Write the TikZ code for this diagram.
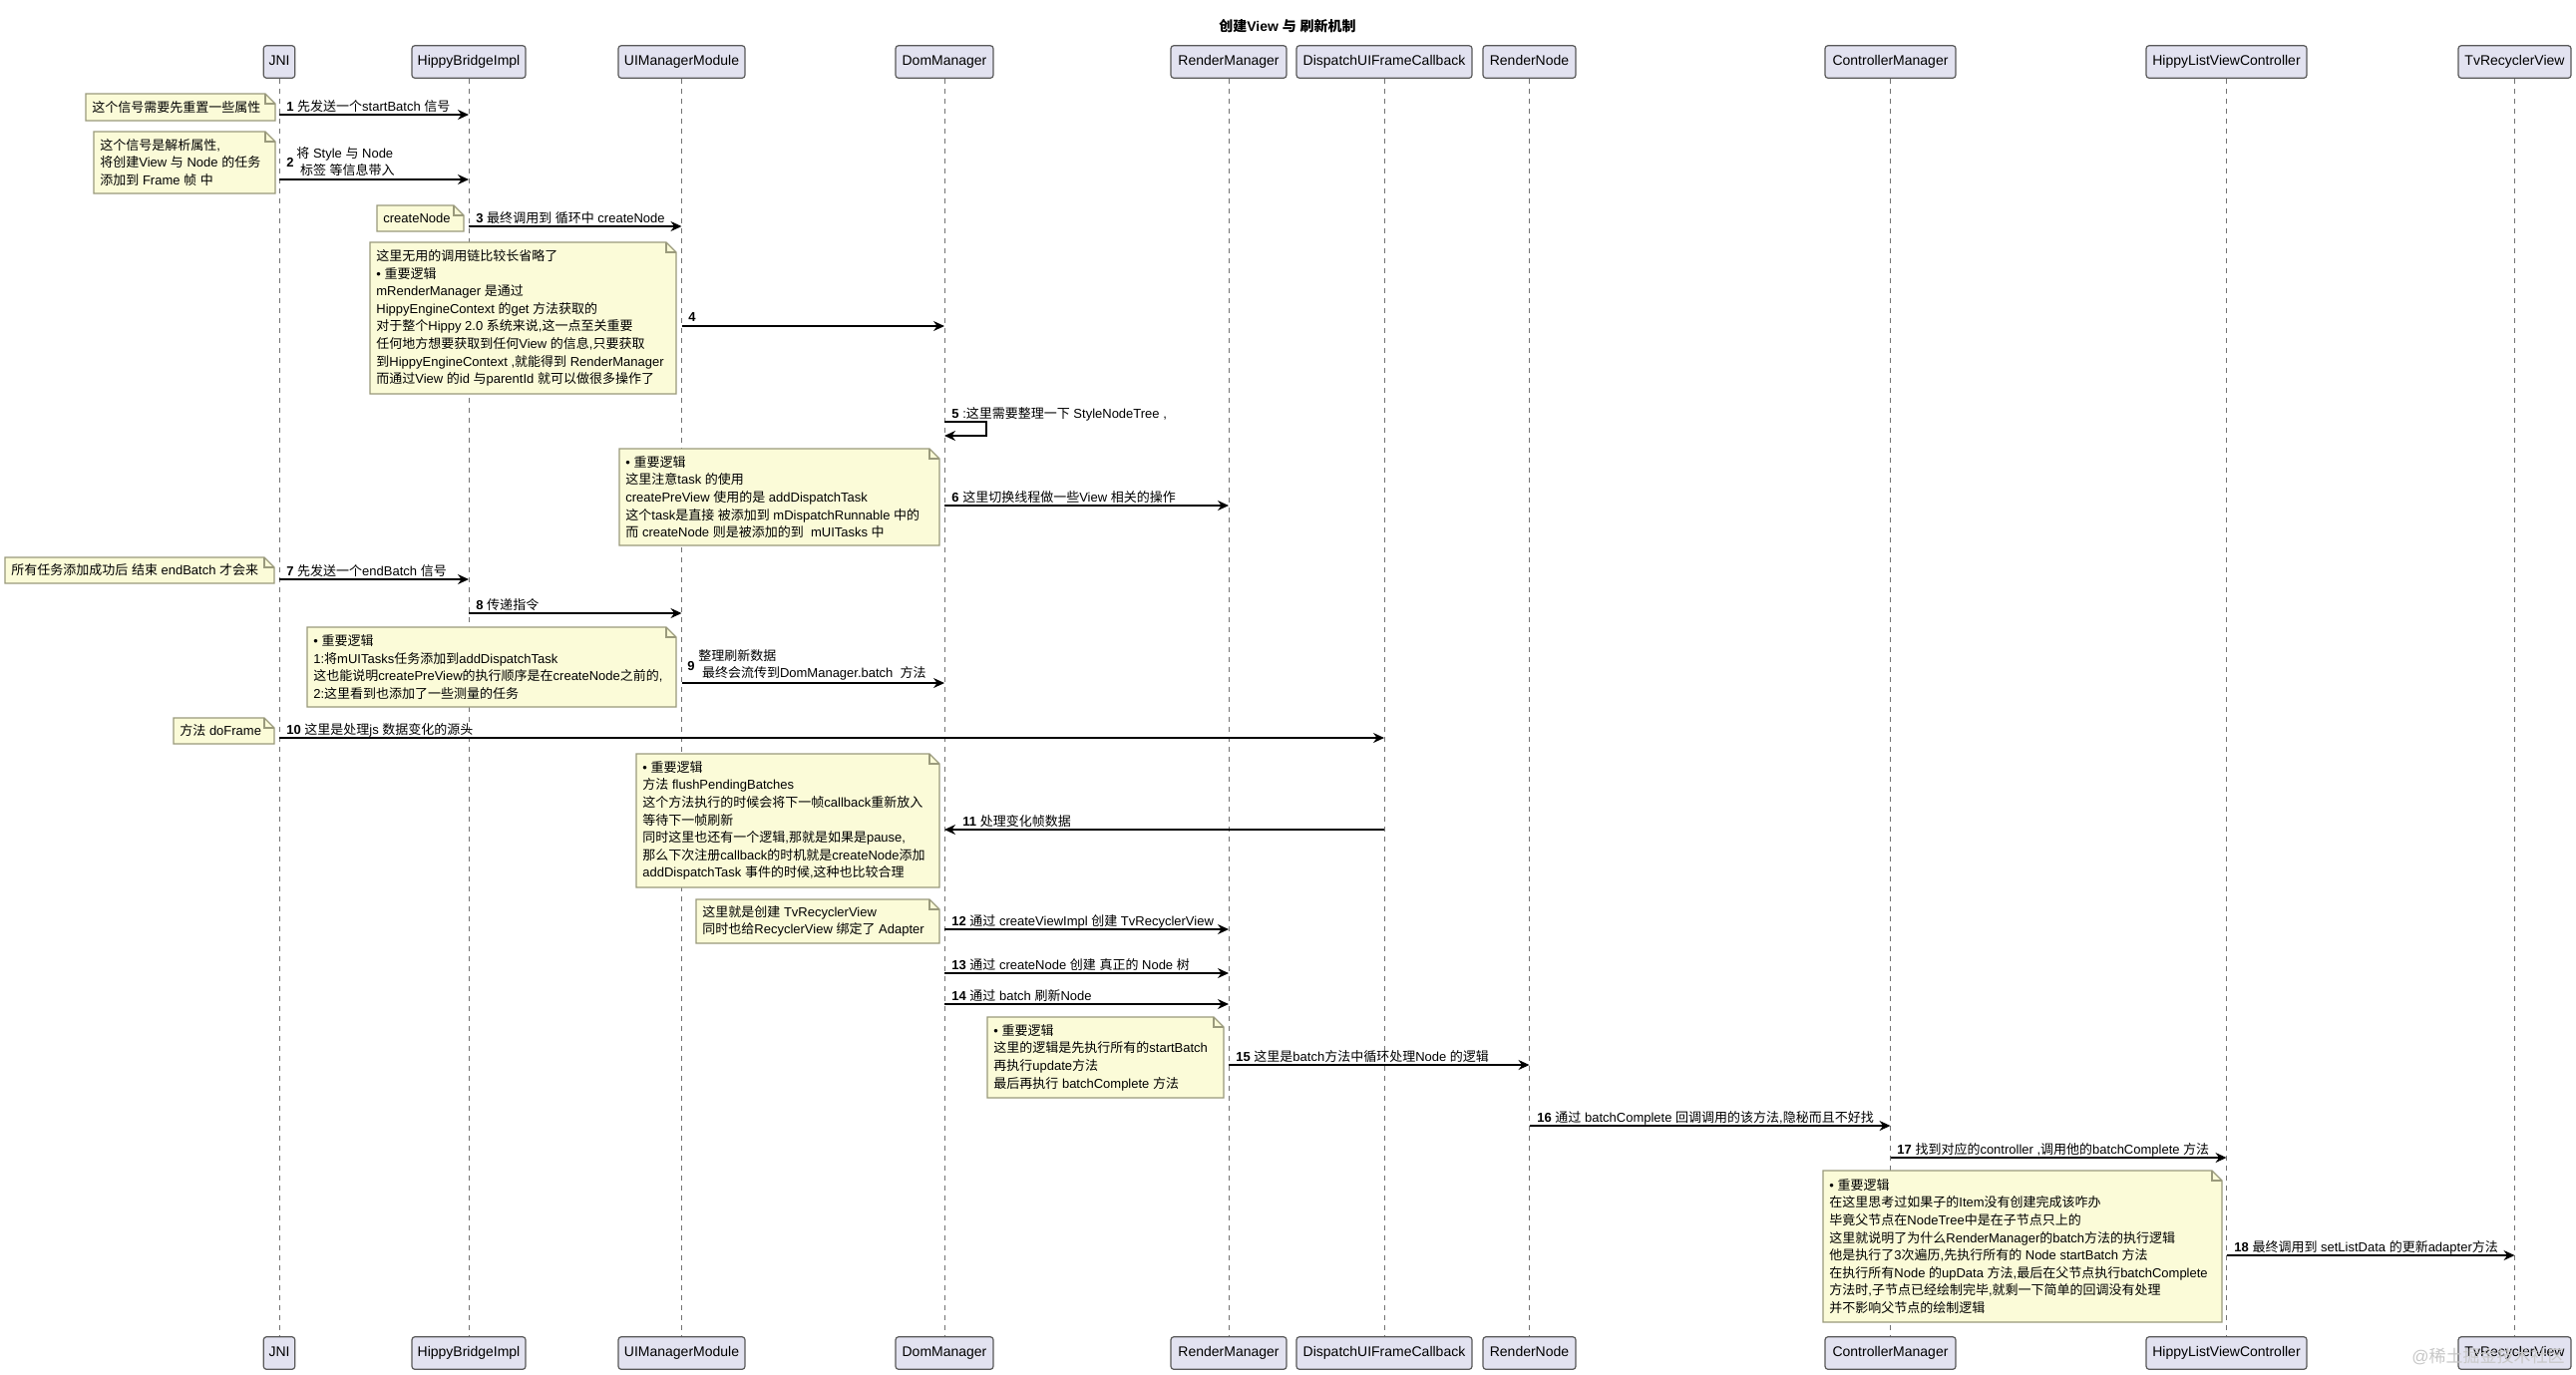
\documentclass[tikz,border=0pt]{standalone}
\usepackage{fontspec}
\usetikzlibrary{arrows.meta}
\setmainfont{Liberation Sans}
\newfontfamily\cjkfont{Noto Sans CJK SC}
\XeTeXinterchartokenstate=1
\newXeTeXintercharclass\cjkclass
\newcount\cjkcnt
\def\setcjkrange#1#2{\cjkcnt=#1\relax
  \loop \XeTeXcharclass\cjkcnt=\cjkclass
  \ifnum\cjkcnt<#2\relax \advance\cjkcnt by 1 \repeat}
\setcjkrange{"3000}{"303F}
\setcjkrange{"4E00}{"9FFF}
\setcjkrange{"FF00}{"FFEF}
\XeTeXinterchartoks 0 \cjkclass = {\begingroup\cjkfont}
\XeTeXinterchartoks 4095 \cjkclass = {\begingroup\cjkfont}
\XeTeXinterchartoks \cjkclass 0 = {\endgroup}
\XeTeXinterchartoks \cjkclass 4095 = {\endgroup}
\definecolor{partfill}{HTML}{E2E2F0}
\definecolor{notefill}{HTML}{FBFBD8}
\definecolor{notedraw}{HTML}{9A9A7C}
\tikzset{
 part/.style={draw=black!65, fill=partfill, rounded corners=1.5pt, line width=0.6pt,
   minimum height=16.3pt, inner sep=0pt, text height=5.2pt, text depth=1.5pt,
   font=\fontsize{7pt}{8.4pt}\selectfont},
 life/.style={draw=black!55, line width=0.5pt, dash pattern=on 2.5pt off 2.5pt},
 msg/.style={draw=black, line width=0.7pt, -{Stealth[length=5.5pt,width=5pt,inset=1.8pt]}},
 lbl/.style={font=\fontsize{6.5pt}{8.8pt}\selectfont, inner sep=0pt, anchor=base west},
 mlbl/.style={font=\fontsize{6.5pt}{8.8pt}\selectfont, inner sep=0pt, anchor=west, align=left},
 notetxt/.style={font=\fontsize{6.5pt}{8.8pt}\selectfont, inner sep=0pt, anchor=west, align=left},
 notebg/.style={draw=notedraw, fill=notefill, line width=0.55pt},
}
\newcommand\drawnote[6]{%
 \draw[notebg] (#2,#3) -- ({#4-10},#3) -- (#4,{#3+10}) -- (#4,#5) -- (#2,#5) -- cycle;
 \draw[notebg, fill=none] ({#4-10},#3) -- ({#4-10},{#3+10}) -- (#4,{#3+10});
 \node[notetxt] (#1) at ({#2+6},{(#3+#5)/2}) {#6};
}
\begin{document}
\begin{tikzpicture}[x=0.5pt,y=-0.5pt]
\useasboundingbox (0,0) rectangle (2583,1378);
\fill[white] (0,0) rectangle (2583,1378);

\node[font=\bfseries\fontsize{7pt}{8.4pt}\selectfont] (title) at (1291,26) {创建View 与 刷新机制};

% participants top
\node[part, minimum width=15.75pt] (jni) at (280,62) {JNI};
\node[part, minimum width=57pt] (hbi) at (470,62) {HippyBridgeImpl};
\node[part, minimum width=63.5pt] (uim) at (683.5,62) {UIManagerModule};
\node[part, minimum width=49pt] (dom) at (947,62) {DomManager};
\node[part, minimum width=58pt] (rm) at (1232,62) {RenderManager};
\node[part, minimum width=88pt] (dui) at (1388,62) {DispatchUIFrameCallback};
\node[part, minimum width=46.5pt] (rn) at (1533.5,62) {RenderNode};
\node[part, minimum width=65.5pt] (cm) at (1895.5,62) {ControllerManager};
\node[part, minimum width=80.5pt] (hlvc) at (2232.5,62) {HippyListViewController};
\node[part, minimum width=56.5pt] (tvrv) at (2521.5,62) {TvRecyclerView};
% participants bottom
\node[part, minimum width=15.75pt] (jni2) at (280,1357) {JNI};
\node[part, minimum width=57pt] (hbi2) at (470,1357) {HippyBridgeImpl};
\node[part, minimum width=63.5pt] (uim2) at (683.5,1357) {UIManagerModule};
\node[part, minimum width=49pt] (dom2) at (947,1357) {DomManager};
\node[part, minimum width=58pt] (rm2) at (1232,1357) {RenderManager};
\node[part, minimum width=88pt] (dui2) at (1388,1357) {DispatchUIFrameCallback};
\node[part, minimum width=46.5pt] (rn2) at (1533.5,1357) {RenderNode};
\node[part, minimum width=65.5pt] (cm2) at (1895.5,1357) {ControllerManager};
\node[part, minimum width=80.5pt] (hlvc2) at (2232.5,1357) {HippyListViewController};
\node[part, minimum width=56.5pt] (tvrv2) at (2521.5,1357) {TvRecyclerView};

% lifelines
\foreach \p in {jni,hbi,uim,dom,rm,dui,rn,cm,hlvc,tvrv}{
  \draw[life] (\p.south) -- (\p2.north);
}

% notes
\drawnote{n1}{86}{94}{276}{121}{这个信号需要先重置一些属性}
\drawnote{n2}{94}{132}{276}{194}{这个信号是解析属性,\\将创建View 与 Node 的任务\\添加到 Frame 帧 中}
\drawnote{n3}{378}{206}{465}{232}{createNode}
\drawnote{n4}{371}{243}{678}{395}{这里无用的调用链比较长省略了\\• 重要逻辑\\mRenderManager 是通过\\HippyEngineContext 的get 方法获取的\\对于整个Hippy 2.0 系统来说,这一点至关重要\\任何地方想要获取到任何View 的信息,只要获取\\到HippyEngineContext ,就能得到 RenderManager\\而通过View 的id 与parentId 就可以做很多操作了}
\drawnote{n6}{621}{450}{942}{547}{• 重要逻辑\\这里注意task 的使用\\createPreView 使用的是 addDispatchTask\\这个task是直接 被添加到 mDispatchRunnable 中的\\而 createNode 则是被添加的到\ \ mUITasks 中}
\drawnote{n7}{5}{559}{275}{585}{所有任务添加成功后 结束 endBatch 才会来}
\drawnote{n9}{308}{629}{678}{709}{• 重要逻辑\\1:将mUITasks任务添加到addDispatchTask\\这也能说明createPreView的执行顺序是在createNode之前的,\\2:这里看到也添加了一些测量的任务}
\drawnote{n10}{174}{720}{275}{746}{方法 doFrame}
\drawnote{n11}{638}{756}{942}{890}{• 重要逻辑\\方法 flushPendingBatches\\这个方法执行的时候会将下一帧callback重新放入\\等待下一帧刷新\\同时这里也还有一个逻辑,那就是如果是pause,\\那么下次注册callback的时机就是createNode添加\\addDispatchTask 事件的时候,这种也比较合理}
\drawnote{n12}{698}{902}{942}{946}{这里就是创建 TvRecyclerView\\同时也给RecyclerView 绑定了 Adapter}
\drawnote{n15}{990}{1020}{1227}{1101}{• 重要逻辑\\这里的逻辑是先执行所有的startBatch\\再执行update方法\\最后再执行 batchComplete 方法}
\drawnote{n18}{1828}{1174}{2228}{1326}{• 重要逻辑\\在这里思考过如果子的Item没有创建完成该咋办\\毕竟父节点在NodeTree中是在子节点只上的\\这里就说明了为什么RenderManager的batch方法的执行逻辑\\他是执行了3次遍历,先执行所有的 Node startBatch 方法\\在执行所有Node 的upData 方法,最后在父节点执行batchComplete\\方法时,子节点已经绘制完毕,就剩一下简单的回调没有处理\\并不影响父节点的绘制逻辑}

% messages
\draw[msg] (jni |- 0,115) -- (hbi |- 0,115);
\node[lbl] (m1) at (287,111) {\textbf{1} 先发送一个startBatch 信号};

\draw[msg] (jni |- 0,180) -- (hbi |- 0,180);
\node[lbl] (m2n) at (287,167) {\textbf{2}};
\node[mlbl] (m2) at (297,162) {将 Style 与 Node\\\ 标签 等信息带入};

\draw[msg] (hbi |- 0,227) -- (uim |- 0,227);
\node[lbl] (m3) at (477,223) {\textbf{3} 最终调用到 循环中 createNode};

\draw[msg] (uim |- 0,327) -- (dom |- 0,327);
\node[lbl] (m4) at (690,322) {\textbf{4}};

\draw[msg] (dom |- 0,423) -- ++(42,0) -- ++(0,14) -- (dom |- 0,437);
\node[lbl] (m5) at (954,419) {\textbf{5} :这里需要整理一下 StyleNodeTree ,};

\draw[msg] (dom |- 0,507) -- (rm |- 0,507);
\node[lbl] (m6) at (954,503) {\textbf{6} 这里切换线程做一些View 相关的操作};

\draw[msg] (jni |- 0,581) -- (hbi |- 0,581);
\node[lbl] (m7) at (287,577) {\textbf{7} 先发送一个endBatch 信号};

\draw[msg] (hbi |- 0,615) -- (uim |- 0,615);
\node[lbl] (m8) at (477,611) {\textbf{8} 传递指令};

\draw[msg] (uim |- 0,685) -- (dom |- 0,685);
\node[lbl] (m9n) at (689,672) {\textbf{9}};
\node[mlbl] (m9) at (700,667) {整理刷新数据\\\ 最终会流传到DomManager.batch\ \ 方法};

\draw[msg] (jni |- 0,740) -- (dui |- 0,740);
\node[lbl] (m10) at (287,736) {\textbf{10} 这里是处理js 数据变化的源头};

\draw[msg] (dui |- 0,832) -- (dom |- 0,832);
\node[lbl] (m11) at (965,828) {\textbf{11} 处理变化帧数据};

\draw[msg] (dom |- 0,932) -- (rm |- 0,932);
\node[lbl] (m12) at (954,928) {\textbf{12} 通过 createViewImpl 创建 TvRecyclerView};

\draw[msg] (dom |- 0,976) -- (rm |- 0,976);
\node[lbl] (m13) at (954,972) {\textbf{13} 通过 createNode 创建 真正的 Node 树};

\draw[msg] (dom |- 0,1007) -- (rm |- 0,1007);
\node[lbl] (m14) at (954,1003) {\textbf{14} 通过 batch 刷新Node};

\draw[msg] (rm |- 0,1068) -- (rn |- 0,1068);
\node[lbl] (m15) at (1239,1064) {\textbf{15} 这里是batch方法中循环处理Node 的逻辑};

\draw[msg] (rn |- 0,1129) -- (cm |- 0,1129);
\node[lbl] (m16) at (1541,1125) {\textbf{16} 通过 batchComplete 回调调用的该方法,隐秘而且不好找};

\draw[msg] (cm |- 0,1161) -- (hlvc |- 0,1161);
\node[lbl] (m17) at (1902,1157) {\textbf{17} 找到对应的controller ,调用他的batchComplete 方法};

\draw[msg] (hlvc |- 0,1259) -- (tvrv |- 0,1259);
\node[lbl] (m18) at (2240,1255) {\textbf{18} 最终调用到 setListData 的更新adapter方法};

% watermark
\node[font=\fontsize{8.5pt}{10pt}\selectfont, text=black!22, anchor=west, inner sep=0pt] (wm) at (2418,1360) {@稀土掘金技术社区};
\end{tikzpicture}
\end{document}
